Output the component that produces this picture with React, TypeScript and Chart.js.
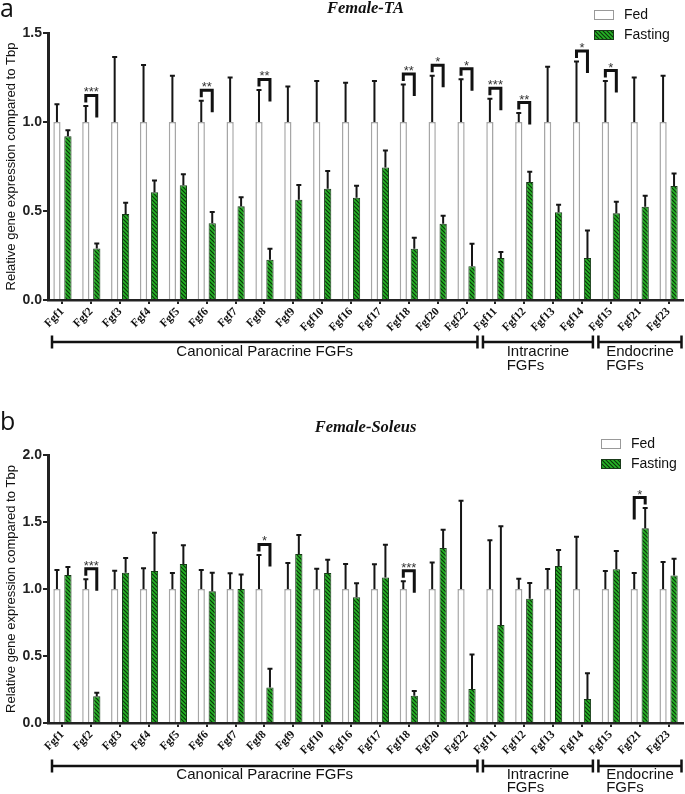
import React, { useEffect, useRef } from "react";
import { Chart, registerables } from "chart.js";
Chart.register(...registerables);

const categories = ["Fgf1","Fgf2","Fgf3","Fgf4","Fgf5","Fgf6","Fgf7","Fgf8","Fgf9","Fgf10","Fgf16","Fgf17","Fgf18","Fgf20","Fgf22","Fgf11","Fgf12","Fgf13","Fgf14","Fgf15","Fgf21","Fgf23"];
const seriesLabels = ["Fed", "Fasting"];
const yTicksA = [0, 0.5, 1.0, 1.5];
const yTicksB = [0, 0.5, 1.0, 1.5, 2.0];

// Panel a: Female-TA
const taFed = [1,1,1,1,1,1,1,1,1,1,1,1,1,1,1,1,1,1,1,1,1,1];
const taFedSem = [0.10,0.09,0.365,0.32,0.26,0.12,0.25,0.18,0.20,0.23,0.22,0.23,0.21,0.26,0.24,0.13,0.05,0.31,0.34,0.23,0.25,0.26];
const taFast = [0.92,0.29,0.483,0.605,0.644,0.431,0.526,0.226,0.563,0.625,0.575,0.745,0.288,0.429,0.189,0.236,0.663,0.493,0.236,0.487,0.524,0.64];
const taFastSem = [0.033,0.028,0.064,0.067,0.062,0.063,0.051,0.062,0.083,0.10,0.067,0.095,0.062,0.045,0.127,0.034,0.057,0.042,0.154,0.065,0.062,0.07];
const taSig = ["","***","","","","**","","**","","","","","**","*","*","***","**","","*","*","",""];

// Panel b: Female-Soleus
const solFed = [1,1,1,1,1,1,1,1,1,1,1,1,1,1,1,1,1,1,1,1,1,1];
const solFedSem = [0.142,0.072,0.137,0.154,0.119,0.142,0.117,0.254,0.194,0.152,0.187,0.184,0.057,0.197,0.659,0.363,0.077,0.149,0.39,0.134,0.119,0.201];
const solFast = [1.104,0.20,1.122,1.134,1.187,0.983,1.0,0.264,1.261,1.119,0.938,1.085,0.204,1.306,0.254,0.731,0.928,1.172,0.18,1.147,1.453,1.10];
const solFastSem = [0.06,0.026,0.109,0.286,0.139,0.139,0.109,0.141,0.142,0.10,0.104,0.246,0.035,0.137,0.258,0.737,0.117,0.119,0.191,0.137,0.151,0.126];
const solSig = ["","***","","","","","","*","","","","","***","","","","","","","","*",""];

const groups = [
  { lines: ["Canonical Paracrine FGFs"], from: 0, to: 14 },
  { lines: ["Intracrine", "FGFs"], from: 15, to: 18 },
  { lines: ["Endocrine", "FGFs"], from: 19, to: 21 },
];

const SANS = '"Liberation Sans", Arial, sans-serif';
const SERIF = '"Liberation Serif", "Times New Roman", serif';

function makeHatch(): CanvasPattern | string {
  const s = 4;
  const c = document.createElement("canvas");
  c.width = s; c.height = s;
  const g = c.getContext("2d");
  if (!g) return "#22a022";
  g.fillStyle = "#26b426";
  g.fillRect(0, 0, s, s);
  g.strokeStyle = "#0c360c";
  g.lineWidth = 1.2;
  for (let k = -1; k <= 1; k++) {
    g.beginPath();
    g.moveTo(k * s - 1, -1);
    g.lineTo(k * s + s + 1, s + 1);
    g.stroke();
  }
  const p = g.createPattern(c, "repeat");
  return p || "#22a022";
}

type PanelCfg = {
  letter: string;
  title: string;
  titleY: number;
  letterY: number;
  fed: number[];
  fedSem: number[];
  fast: number[];
  fastSem: number[];
  sig: string[];
  yMax: number;
  yTicks: number[];
  height: number;
  top: number;
  xHeight: number;
  legendX: number;
  legendY: number;
  groupY: number;
  groupText1: number;
  groupText2: number;
};

const panels: PanelCfg[] = [
  { letter: "a", title: "Female-TA", titleY: 9, letterY: 17, fed: taFed, fedSem: taFedSem, fast: taFast, fastSem: taFastSem, sig: taSig, yMax: 1.5, yTicks: yTicksA, height: 390, top: 33, xHeight: 90, legendX: 594, legendY: 15, groupY: 342, groupText1: 10, groupText2: 24 },
  { letter: "b", title: "Female-Soleus", titleY: 38, letterY: 40, fed: solFed, fedSem: solFedSem, fast: solFast, fastSem: solFastSem, sig: solSig, yMax: 2.0, yTicks: yTicksB, height: 404, top: 65, xHeight: 71, legendX: 601, legendY: 54, groupY: 376, groupText1: 8.5, groupText2: 21.5 },
];

function Panel({ cfg }: { cfg: PanelCfg }) {
  const ref = useRef<HTMLCanvasElement | null>(null);
  useEffect(() => {
    if (!ref.current) return;
    const hatch = makeHatch();
    const overlay = {
      id: "overlay",
      afterDatasetsDraw(chart: any) {
        const ctx: CanvasRenderingContext2D = chart.ctx;
        const ys = chart.scales.y;
        const m0 = chart.getDatasetMeta(0);
        const m1 = chart.getDatasetMeta(1);
        ctx.save();
        const drawErr = (bx: number, v: number, sem: number) => {
          const y0 = ys.getPixelForValue(v);
          const y1 = ys.getPixelForValue(v + sem);
          ctx.strokeStyle = "#151515";
          ctx.lineWidth = 2;
          ctx.beginPath();
          ctx.moveTo(bx, y0);
          ctx.lineTo(bx, y1);
          ctx.moveTo(bx - 2.5, y1);
          ctx.lineTo(bx + 2.5, y1);
          ctx.stroke();
        };
        categories.forEach((_, i) => {
          drawErr(m0.data[i].x, cfg.fed[i], cfg.fedSem[i]);
          drawErr(m1.data[i].x, cfg.fast[i], cfg.fastSem[i]);
        });
        categories.forEach((_, i) => {
          const s = cfg.sig[i];
          if (!s) return;
          const xl = m0.data[i].x;
          const xr = m1.data[i].x;
          const pl = ys.getPixelForValue(cfg.fed[i] + cfg.fedSem[i]);
          const pr = ys.getPixelForValue(cfg.fast[i] + cfg.fastSem[i]);
          const top = Math.min(pl, pr) - 10.5;
          const leftHigher = pl <= pr;
          const ll = leftHigher ? 7 : 22;
          const rl = leftHigher ? 22 : 7;
          ctx.strokeStyle = "#111";
          ctx.lineWidth = 3;
          ctx.lineJoin = "miter";
          ctx.beginPath();
          ctx.moveTo(xl, top + ll);
          ctx.lineTo(xl, top);
          ctx.lineTo(xr, top);
          ctx.lineTo(xr, top + rl);
          ctx.stroke();
          ctx.fillStyle = "#333";
          ctx.font = `13px ${SANS}`;
          ctx.textAlign = "center";
          ctx.textBaseline = "alphabetic";
          ctx.fillText(s, (xl + xr) / 2, top + 1);
        });
        ctx.restore();
      },
      afterDraw(chart: any) {
        const ctx: CanvasRenderingContext2D = chart.ctx;
        const xs = chart.scales.x;
        const area = chart.chartArea;
        ctx.save();
        ctx.fillStyle = "#111";
        ctx.font = `25px "Open Sans", ${SANS}`;
        ctx.textAlign = "left";
        ctx.textBaseline = "alphabetic";
        ctx.fillText(cfg.letter, 0, cfg.letterY);
        ctx.font = `italic bold 16.5px ${SERIF}`;
        ctx.textAlign = "center";
        ctx.textBaseline = "middle";
        ctx.fillText(cfg.title, (area.left + area.right) / 2, cfg.titleY);
        ctx.save();
        ctx.translate(11, (area.top + area.bottom) / 2);
        ctx.rotate(-Math.PI / 2);
        ctx.font = `13px ${SANS}`;
        ctx.fillStyle = "#111";
        ctx.textAlign = "center";
        ctx.textBaseline = "middle";
        ctx.fillText("Relative gene expression compared to Tbp", 0, 0);
        ctx.restore();
        const lx = cfg.legendX;
        [0, 1].forEach((k) => {
          const cy = cfg.legendY + k * 20;
          ctx.fillStyle = k === 0 ? "#fff" : (hatch as any);
          ctx.fillRect(lx, cy - 4.5, 19, 9);
          ctx.strokeStyle = k === 0 ? "#999" : "#1a3a1a";
          ctx.lineWidth = 1;
          ctx.strokeRect(lx + 0.5, cy - 4.5, 19, 9);
          ctx.fillStyle = "#111";
          ctx.font = `14px ${SANS}`;
          ctx.textAlign = "left";
          ctx.textBaseline = "middle";
          ctx.fillText(seriesLabels[k], lx + 30, cy + 0.5);
        });
        const step = xs.getPixelForValue(1) - xs.getPixelForValue(0);
        const gy = cfg.groupY;
        groups.forEach((g, gi) => {
          const start = xs.getPixelForValue(g.from) - step / 2 + (gi === 0 ? 4 : 2);
          const end = xs.getPixelForValue(g.to) + step / 2 - (gi === groups.length - 1 ? 1.5 : 3.5);
          ctx.strokeStyle = "#111";
          ctx.lineWidth = 2.5;
          ctx.beginPath();
          ctx.moveTo(start, gy);
          ctx.lineTo(end, gy);
          ctx.moveTo(start, gy - 6.5);
          ctx.lineTo(start, gy + 6.5);
          ctx.moveTo(end, gy - 6.5);
          ctx.lineTo(end, gy + 6.5);
          ctx.stroke();
          ctx.font = `15px ${SANS}`;
          ctx.fillStyle = "#111";
          ctx.textBaseline = "middle";
          ctx.textAlign = "left";
          const w = Math.max(...g.lines.map((l) => ctx.measureText(l).width));
          const left = (start + end) / 2 - w / 2;
          g.lines.forEach((l, li) => ctx.fillText(l, left, gy + (li === 0 ? cfg.groupText1 : cfg.groupText2)));
        });
        ctx.restore();
      },
    };
    const chart = new Chart(ref.current, {
      type: "bar",
      data: {
        labels: categories,
        datasets: [
          { label: seriesLabels[0], data: cfg.fed, backgroundColor: "#ffffff", borderColor: "#a6a6a6", borderWidth: 1.5, categoryPercentage: 0.76, barPercentage: 0.66 },
          { label: seriesLabels[1], data: cfg.fast, backgroundColor: hatch as any, borderColor: "#163a16", borderWidth: 1, categoryPercentage: 0.76, barPercentage: 0.66 },
        ],
      },
      options: {
        responsive: false,
        animation: false,
        layout: { padding: { top: cfg.top, right: 2, left: 0, bottom: 0 } },
        plugins: { legend: { display: false }, title: { display: false }, tooltip: { enabled: false } },
        scales: {
          x: {
            grid: { offset: false, drawOnChartArea: false, drawTicks: true, tickLength: 4, color: "#222", lineWidth: 2 },
            border: { color: "#222", width: 2.5 },
            ticks: { autoSkip: false, minRotation: 45, maxRotation: 45, font: { family: SERIF, weight: "bold", size: 11.5 }, color: "#111", padding: 1 },
            afterFit: (s: any) => { s.height = cfg.xHeight; },
          },
          y: {
            min: 0,
            max: cfg.yMax,
            afterBuildTicks: (s: any) => { s.ticks = cfg.yTicks.map((v) => ({ value: v })); },
            ticks: { callback: (v: any) => Number(v).toFixed(1), font: { family: SANS, weight: "bold", size: 14 }, color: "#222", padding: 1 },
            grid: { drawOnChartArea: false, drawTicks: true, tickLength: 5, color: "#222", lineWidth: 2 },
            border: { color: "#222", width: 3 },
            afterFit: (s: any) => { s.width = 48; },
          },
        },
      },
      plugins: [overlay],
    } as any);
    return () => chart.destroy();
  }, [cfg]);
  return <canvas ref={ref} width={685} height={cfg.height} style={{ display: "block", width: 685, height: cfg.height }} />;
}

export default function App() {
  useEffect(() => {
    document.body.style.margin = "0";
    document.body.style.background = "#fff";
  }, []);
  return (
    <div style={{ width: 685, height: 794, background: "#fff" }}>
      {panels.map((p) => (
        <Panel key={p.letter} cfg={p} />
      ))}
    </div>
  );
}
